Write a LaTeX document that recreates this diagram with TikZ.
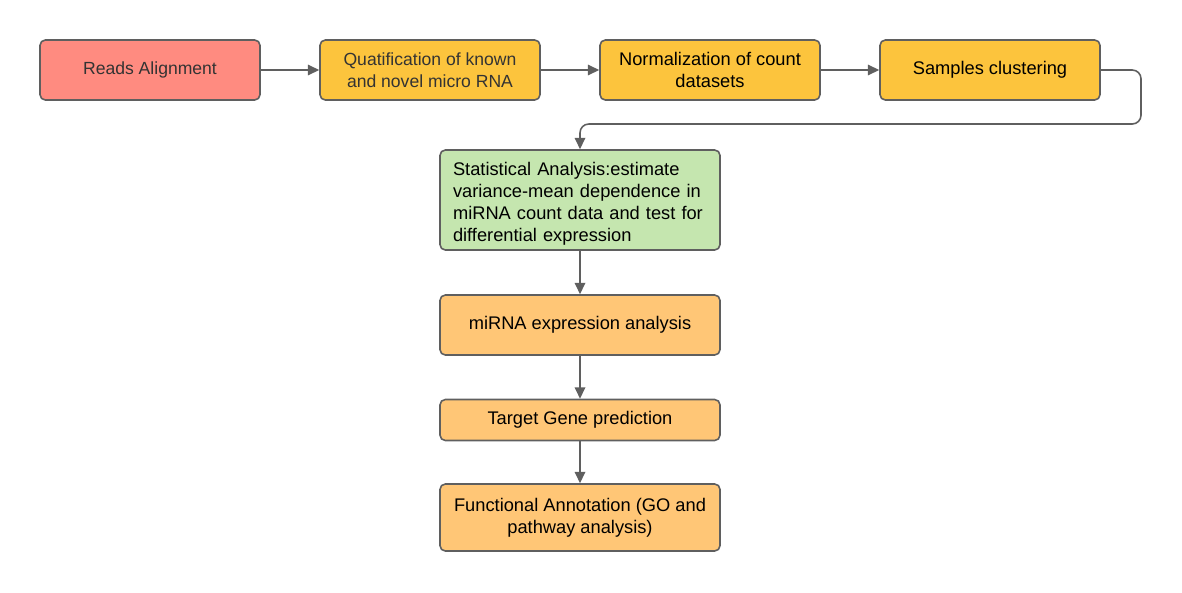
\documentclass[tikz,border=0pt]{standalone}
\usepackage{fontspec}
\setmainfont{Liberation Sans}
\usetikzlibrary{arrows.meta}
\definecolor{salmon}{HTML}{FF8B80}
\definecolor{gold}{HTML}{FCC43D}
\definecolor{leaf}{HTML}{C5E6AF}
\definecolor{peach}{HTML}{FFC676}
\definecolor{edge}{HTML}{5F5F5F}
\definecolor{ink}{HTML}{333333}
\begin{document}
\begin{tikzpicture}[x=0.02cm,y=-0.02cm,
        stepbox/.style={draw=edge, line width=0.9pt, rounded corners=3pt,
            minimum width=4.4cm, minimum height=1.2cm, align=center,
            font=\fontsize{10.4}{12.5}\selectfont},
        greytext/.style={text=ink, font=\fontsize{10}{12.5}\selectfont},
        arr/.style={draw=edge, line width=0.9pt, -{Triangle[length=6.5pt,width=6pt]}}]
            \useasboundingbox (0,0) rectangle (1182,592);
            % top row
            \node[stepbox, greytext, fill=salmon] (align) at (150,70) {Reads Alignment};
            \node[stepbox, greytext, fill=gold] (quant) at (430,70) {Quatification of known\\and novel micro RNA};
            \node[stepbox, fill=gold] (norm) at (710,70) {Normalization of count\\datasets};
            \node[stepbox, fill=gold] (clust) at (990,70) {Samples clustering};
            % column
            \node[stepbox, fill=leaf, minimum width=5.6cm, minimum height=2cm, align=left, inner xsep=0.26cm,
                inner ysep=1pt, text width=5.08cm] (stat) at (580,200)
                {\rule{0pt}{12pt}Statistical Analysis:estimate\\variance-mean dependence in\\miRNA count data and test for\\differential expression};
            \node[stepbox, fill=peach, minimum width=5.6cm] (expr) at (580,325) {miRNA expression analysis};
            \node[stepbox, fill=peach, minimum width=5.6cm, minimum height=0.82cm] (target) at (580,420) {Target Gene prediction};
            \node[stepbox, fill=peach, minimum width=5.6cm, minimum height=1.34cm] (func) at (580,517.5) {Functional Annotation (GO and\\pathway analysis)};
            \coordinate (bend) at (1141,124);
            % connectors
            \draw[arr] (align) -- (quant);
            \draw[arr] (quant) -- (norm);
            \draw[arr] (norm) -- (clust);
            \draw[arr, rounded corners=5pt] (clust.east) -| (bend) -| (stat.north);
            \draw[arr] (stat) -- (expr);
            \draw[arr] (expr) -- (target);
            \draw[arr] (target) -- (func);
\end{tikzpicture}
\end{document}
